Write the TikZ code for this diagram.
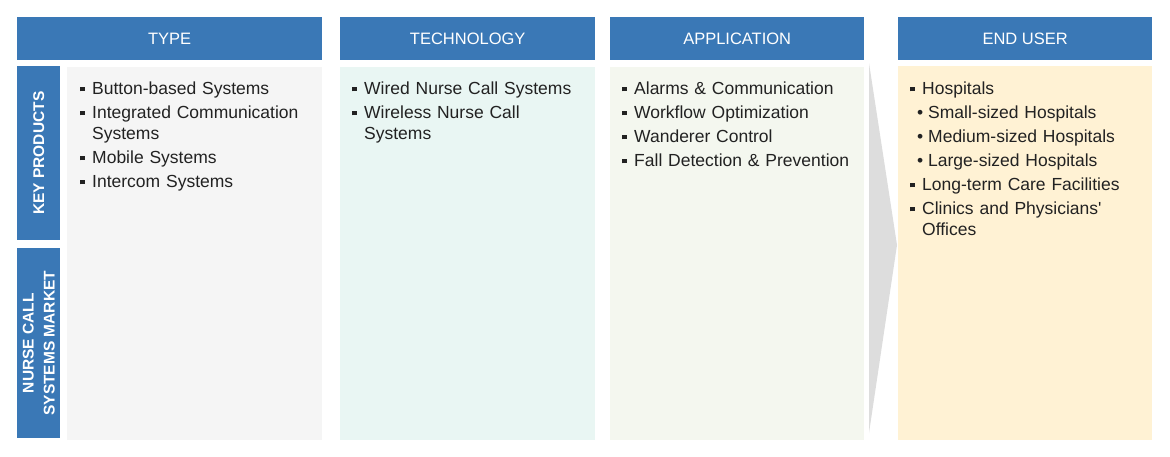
\documentclass[tikz,border=0pt]{standalone}
\usepackage{fontspec}
\setmainfont{Liberation Sans}
\usepackage{xcolor}
\definecolor{headblue}{HTML}{3A78B6}
\definecolor{typebg}{HTML}{F5F5F5}
\definecolor{techbg}{HTML}{E9F6F3}
\definecolor{appbg}{HTML}{F4F7EF}
\definecolor{userbg}{HTML}{FFF2D4}
\definecolor{arrowgray}{HTML}{DDDDDD}
\definecolor{bodytext}{HTML}{222222}
\newcommand{\sqitem}[1]{\noindent\hangindent=12pt\hangafter=1\makebox[12pt][l]{\rule[3.5pt]{4.5pt}{4.5pt}}#1\par}
\newcommand{\dotitem}[1]{\noindent\hangindent=18pt\hangafter=1\hspace*{7pt}\makebox[11pt][l]{\textbullet}#1\par}

\begin{document}
\begin{tikzpicture}[x=1pt,y=-1pt,
    header/.style={fill=headblue,text=white,anchor=north west,inner sep=0pt,
      font=\fontsize{16.5}{19}\selectfont},
    panel/.style={anchor=north west,inner sep=0pt,minimum height=373pt},
    sidebox/.style={fill=headblue,text=white,anchor=north west,inner sep=0pt,
      minimum width=43pt,font=\bfseries\fontsize{15.5}{18}\selectfont},
    itemlist/.style={anchor=north west,inner sep=0pt,text=bodytext,
      font=\fontsize{17.5}{21}\selectfont\raggedright}]
    \useasboundingbox (0,0) rectangle (1170,456);
    % Column headers
    \node[header,minimum width=305pt,minimum height=43pt] (typehead) at (17,17) {TYPE};
    \node[header,minimum width=255pt,minimum height=43pt] (techhead) at (340,17) {TECHNOLOGY};
    \node[header,minimum width=254pt,minimum height=43pt] (apphead) at (610,17) {APPLICATION};
    \node[header,minimum width=254pt,minimum height=43pt] (userhead) at (898,17) {END USER};
    % Side labels
    \node[sidebox,minimum height=174pt] (keybox) at (17,66) {};
    \node[rotate=90,text=white,font=\bfseries\fontsize{15.5}{18}\selectfont] (keylabel) at (keybox.center) {KEY PRODUCTS};
    \node[sidebox,minimum height=190pt] (marketbox) at (17,248) {};
    \node[rotate=90,text=white,align=center,font=\bfseries\fontsize{15.5}{21}\selectfont] (marketlabel) at (marketbox.center) {NURSE CALL\\SYSTEMS MARKET};
    % Panels
    \node[panel,fill=typebg,minimum width=255pt] (typepanel) at (67,67) {};
    \node[panel,fill=techbg,minimum width=255pt] (techpanel) at (340,67) {};
    \node[panel,fill=appbg,minimum width=254pt] (apppanel) at (610,67) {};
    \node[panel,fill=userbg,minimum width=254pt,minimum height=374pt] (userpanel) at (898,66) {};
    % Arrow into end user
    \fill[arrowgray] (869,63) -- (897,245) -- (869,433) -- cycle;
    % Lists
    \node[itemlist,text width=240pt] (typelist) at (80,82) {\setlength\parskip{3pt}%
      \sqitem{Button-based Systems}
      \sqitem{Integrated Communication\newline Systems}
      \sqitem{Mobile Systems}
      \sqitem{Intercom Systems}};
    \node[itemlist,text width=240pt] (techlist) at (352,82) {\setlength\parskip{3pt}%
      \sqitem{Wired Nurse Call Systems}
      \sqitem{Wireless Nurse Call\newline Systems}};
    \node[itemlist,text width=240pt] (applist) at (622,82) {\setlength\parskip{3pt}%
      \sqitem{Alarms \& Communication}
      \sqitem{Workflow Optimization}
      \sqitem{Wanderer Control}
      \sqitem{Fall Detection \& Prevention}};
    \node[itemlist,text width=240pt] (userlist) at (910,82) {\setlength\parskip{3pt}%
      \sqitem{Hospitals}
      \dotitem{Small-sized Hospitals}
      \dotitem{Medium-sized Hospitals}
      \dotitem{Large-sized Hospitals}
      \sqitem{Long-term Care Facilities}
      \sqitem{Clinics and Physicians\textquotesingle\newline Offices}};
\end{tikzpicture}
\end{document}
